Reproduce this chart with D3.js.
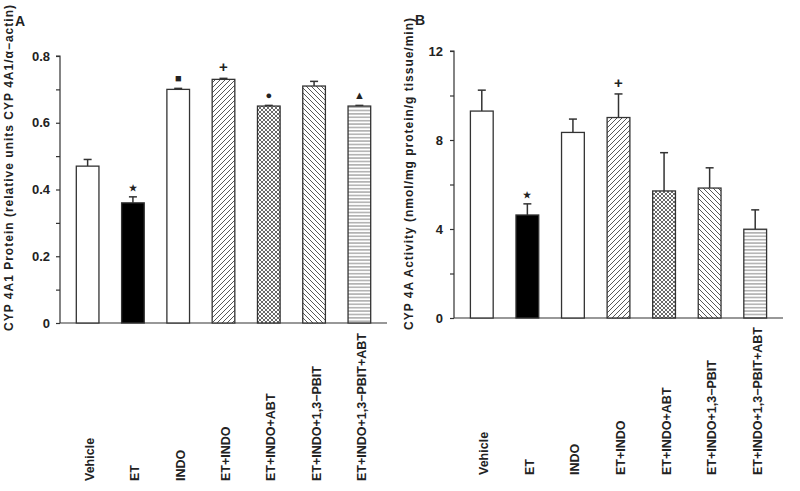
<!DOCTYPE html>
<html><head><meta charset="utf-8">
<script src="https://cdn.jsdelivr.net/npm/d3@7"></script>
<style>body{margin:0;background:#fff}svg{display:block}text{font-family:"Liberation Sans",Arial,sans-serif;fill:#222}</style>
</head><body><svg id="c" width="800" height="491"></svg>
<script>
const categories = ["Vehicle","ET","INDO","ET+INDO","ET+INDO+ABT","ET+INDO+1,3\u2212PBIT","ET+INDO+1,3\u2212PBIT+ABT"];
const fills = ["white","black","white","fwd","cross","back","horiz"];
const proteinValues = [0.47,0.36,0.70,0.73,0.65,0.71,0.65];
const proteinErrors = [0.02,0.018,0.003,0.003,0.002,0.014,0.002];
const proteinMarks = ["","\u2605","\u25A0","+","\u25CF","","\u25B2"];
const activityValues = [9.30,4.63,8.34,9.01,5.71,5.84,3.99];
const activityErrors = [0.94,0.50,0.60,1.06,1.72,0.91,0.87];
const activityMarks = ["","\u2605","","+","","",""];
const proteinTicks = [0,0.2,0.4,0.6,0.8];
const activityTicks = [0,4,8,12];

const svg = d3.select("#c");
const defs = svg.append("defs");
const ink = "#333";
function pat(id, w, h, draw){
  const p = defs.append("pattern").attr("id",id).attr("patternUnits","userSpaceOnUse").attr("width",w).attr("height",h);
  p.append("rect").attr("width",w).attr("height",h).attr("fill","white");
  draw(p);
}
pat("fwd",5,5,p=>{p.append("path").attr("d","M-1,6 L6,-1 M-1,1 L1,-1 M4,6 L6,4").attr("stroke","#444").attr("stroke-width",0.9);});
pat("back",5,5,p=>{p.append("path").attr("d","M-1,-1 L6,6 M4,-1 L6,1 M-1,4 L1,6").attr("stroke","#444").attr("stroke-width",0.9);});
pat("cross",4,4,p=>{p.append("path").attr("d","M-1,5 L5,-1 M-1,-1 L5,5 M-1,1 L1,-1 M3,5 L5,3 M-1,3 L1,5 M3,-1 L5,1").attr("stroke","#444").attr("stroke-width",0.8);});
pat("horiz",4,3.4,p=>{p.append("path").attr("d","M0,1.7 L4,1.7").attr("stroke","#555").attr("stroke-width",0.8);});
function fillOf(f){return f==="white"?"white":f==="black"?"black":"url(#"+f+")";}

function panel(o){
  const g = svg.append("g");
  const x = d3.scaleBand().domain(categories).range([o.x0, o.x1]).paddingInner(0.5).paddingOuter(0.36);
  const y = d3.scaleLinear().domain(o.domain).range([o.y0, o.y1]);
  const minor = d3.range(o.domain[0], o.domain[1]+1e-9, o.minorStep);
  g.append("g").attr("transform",`translate(${o.x0},0)`)
    .call(d3.axisLeft(y).tickValues(minor).tickSize(4).tickFormat(d=>o.ticks.some(t=>Math.abs(t-d)<1e-9)?o.fmt(d):""))
    .call(a=>{a.select(".domain").attr("stroke",ink).attr("stroke-width",1.2).attr("d",`M-4,${y(o.domain[1])}H0V${y(0)}`);
      a.selectAll(".tick line").attr("stroke",ink).attr("stroke-width",1.2);
      a.selectAll(".tick text").attr("font-size",13).attr("font-weight","bold").attr("fill","#222").attr("x",o.tickDx);});
  g.append("line").attr("x1",o.x0).attr("x2",o.x1).attr("y1",y(0)).attr("y2",y(0)).attr("stroke",ink).attr("stroke-width",1.2);
  categories.forEach((c,i)=>{
    const cx = x(c)+x.bandwidth()/2, top = y(o.values[i]+o.errors[i]);
    g.append("line").attr("x1",cx).attr("x2",cx).attr("y1",y(o.values[i])).attr("y2",top).attr("stroke",ink).attr("stroke-width",1.5);
    g.append("line").attr("x1",cx-4).attr("x2",cx+4).attr("y1",top).attr("y2",top).attr("stroke",ink).attr("stroke-width",1.5);
  });
  g.selectAll("rect.bar").data(categories).join("rect").attr("class","bar")
    .attr("x",d=>x(d)).attr("width",x.bandwidth())
    .attr("y",(d,i)=>y(o.values[i])).attr("height",(d,i)=>y(0)-y(o.values[i]))
    .attr("fill",(d,i)=>fillOf(fills[i])).attr("stroke",ink).attr("stroke-width",1.3);
  categories.forEach((c,i)=>{
    const m = o.marks[i]; if(!m) return;
    const cx = x(c)+x.bandwidth()/2;
    g.append("text").attr("x",cx).attr("y",y(o.values[i]+o.errors[i])-6).attr("text-anchor","middle")
      .attr("font-size",m==="+"?15:(m==="\u2605"?9:11)).attr("font-weight","bold").attr("fill","#111").text(m);
  });
  categories.forEach(c=>{
    const cx = x(c)+x.bandwidth()/2+6.5;
    g.append("text").attr("transform",`translate(${cx},${o.labelY}) rotate(-90)`)
      .attr("font-size",12.5).attr("font-weight","bold").attr("fill","#222").text(c);
  });
  g.append("text").attr("transform",`translate(${o.titleX},${o.titleY}) rotate(-90)`).attr("text-anchor","middle")
    .attr("font-size",12).attr("font-weight","bold").attr("textLength",o.titleLen).attr("lengthAdjust","spacing").text(o.title);
  g.append("text").attr("x",o.letterX).attr("y",o.letterY).attr("font-size",14).attr("font-weight","bold").attr("fill","#111").text(o.letter);
}

panel({x0:60,x1:387,y0:323,y1:56,domain:[0,0.8],minorStep:0.1,ticks:proteinTicks,fmt:d=>d===0?"0":d.toFixed(1),tickDx:-10,
  values:proteinValues,errors:proteinErrors,marks:proteinMarks,labelY:481,
  title:"CYP 4A1 Protein (relative units CYP 4A1/\u03b1\u2212actin)",titleX:13,titleY:168,titleLen:326,
  letter:"A",letterX:15,letterY:26});
panel({x0:454,x1:783,y0:318,y1:51,domain:[0,12],minorStep:2,ticks:activityTicks,fmt:d=>String(d),tickDx:-11,
  values:activityValues,errors:activityErrors,marks:activityMarks,labelY:475,
  title:"CYP 4A Activity (nmol/mg protein/g tissue/min)",titleX:413,titleY:174,titleLen:312,
  letter:"B",letterX:415,letterY:25});
</script></body></html>
